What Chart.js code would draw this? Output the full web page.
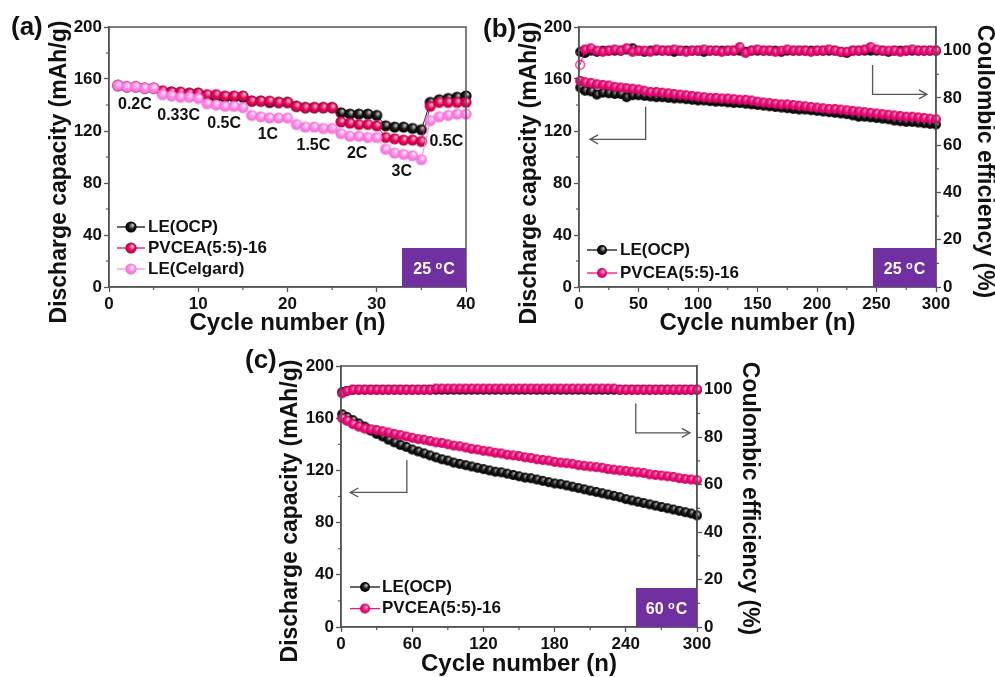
<!DOCTYPE html>
<html><head><meta charset="utf-8">
<script src="https://cdn.jsdelivr.net/npm/chart.js@4.4.1/dist/chart.umd.min.js"></script>
<style>
html,body{margin:0;padding:0;background:#fff;}
body{width:995px;height:677px;position:relative;overflow:hidden;}
canvas{position:absolute;}
</style></head><body>
<canvas id="ca" style="left:0px;top:0px" width="480" height="340"></canvas>
<canvas id="cb" style="left:480px;top:0px" width="515" height="340"></canvas>
<canvas id="cc" style="left:240px;top:340px" width="530" height="337"></canvas>
<script>
// ================= DATA =================
// (a) rate capability, 25 °C
const cyclesA = [1,2,3,4,5,6,7,8,9,10,11,12,13,14,15,16,17,18,19,20,21,22,23,24,25,26,27,28,29,30,31,32,33,34,35,36,37,38,39,40];
const capA_OCP     = [155,154,154,153,153, 150,150,149,149,149, 147,146,146,146,146, 143,143,142,142,142, 139,138,138,138,138, 134,133,133,133,132, 124,123,123,122,121, 142,144,145,146,147];
const capA_PVCEA   = [155,154,154,153,153, 151,150,150,149,149, 148,148,147,147,147, 143,143,143,142,142, 139,138,138,138,138, 127,126,125,125,124, 115,114,113,113,112, 139,142,142,142,142];
const capA_Celgard = [155,154,154,153,153, 148,147,146,146,145, 141,140,139,139,138, 132,131,130,130,130, 125,123,123,122,122, 118,116,116,115,115, 106,103,102,101,98, 128,131,132,133,133];
const rateLabels = ['0.2C','0.33C','0.5C','1C','1.5C','2C','3C','0.5C'];
const rateLabelX = [2.9,7.8,12.9,17.8,22.9,27.8,32.8,37.8];
const rateLabelY = [140,132,126,117,109,103,88.5,111.5];

// (b) and (c) cycling, sampled cycles
const cyclesBC = [1,5,10,15,20,25,30,35,40,45,50,55,60,65,70,75,80,85,90,95,100,105,110,115,120,125,130,135,140,145,150,155,160,165,170,175,180,185,190,195,200,205,210,215,220,225,230,235,240,245,250,255,260,265,270,275,280,285,290,295,300];

// (b) 25 °C
const capB_OCP   = [153.5,151,150.5,148,149.5,149,148.5,148.5,146,147.5,147.5,147,146.5,146,146,145.5,145,145,144.5,144,143.5,143.5,143,142.5,142.5,142,141.5,141.5,141,140.5,140,139.5,139,138.5,138,137.5,137,136.5,136.5,136,135.5,135,134.5,134,133.5,133,132,131,131,130.5,130,129.5,129,128,127.5,127,127,126.5,126,125.5,125];
const capB_PVCEA = [158.5,157.5,157,156,155.5,155,154,153.5,153,152.5,152,151,150,150,149.5,149,148.5,148,147.5,147,146.5,146,145.5,145.5,145,145,144.5,144,144,143.5,142.5,142,141.5,141,140.5,140.5,140,139.5,139,138.5,138,137.5,137,137,136.5,136,135.5,135,134.5,134,133.5,133,132.5,132,131.5,131,131,130.5,130,129.5,129];
const ceB_OCP    = [99.5,99,100,99.5,100,100,100,100,100.5,101, 100,99.5,100,100,100,100,99.5,100,100,100, 100,99.5,100,100,100,100,100,100,99.5,100, 100,100,100,100,99.5,100,100,100,100,100, 100,100,100,100,99.5,99,100,100,100,100, 100,100,99.5,100,100,100,100,100,100,100, 100];
const ceB_PVCEA  = [94,100.5,101,100,99.5,100,100.5,100,101,99.5, 100,100,99.5,100.5,100,100,100.5,100,99.5,100, 100,100.5,100,100,99.5,100,100,101.5,99,100, 100.5,100,100,99.5,100,100.5,100,100,100,99.5, 100,100,100.5,100,99.5,99.5,100,100,100.5,101.5, 100.5,100,100,100,99.5,100,100.5,100,100,100, 100];

// (c) 60 °C
const capC_OCP   = [163,161,158.5,156,153.5,150.5,148,146,143.5,141.5, 139.5,138,136,134.5,133,131.5,130,128.5,127.5,126, 125,124,123,122,121,120,119,118.5,117.5,116.5, 115.5,114.5,114,113,112,111,110,109.5,108.5,107.5, 106.5,105.5,104.5,103.5,102.5,101.5,100.5,99.5,98,97, 96,95,94,93,92,91,90,89,88,87, 85.5];
const capC_PVCEA = [160,158,155.5,153.5,152,151.5,151,150,149,148, 147,146,145,144,143.5,142.5,141.5,141,140,139, 138.5,137.5,136.5,136,135,134.5,133.5,133,132,131.5, 131,130,129.5,128.5,128,127.5,126.5,126,125.5,125, 124,123.5,123,122.5,122,121,120.5,120,119.5,119, 118.5,118,117,116.5,116,115.5,115,114,113.5,113, 112.5];
const ceC_OCP    = [99,99.5,100,100,100,100,100,100,100,100, 100,100,100,100,100,100,100,100,100,100, 100,100,100,100,100,100,100,100,100,100, 100,100,100,100,100,100,100,100,100,100, 100,100,100,100,100,100,100,100,100,100, 100,100,100,100,100,100,100,100,100,100, 100];
const ceC_PVCEA  = [98.5,99.5,100,100,100,100,100,100,100,100, 100,100,100,100,100,100,100.5,100.5,100.5,100.5, 100.5,100.5,100.5,100.5,100.5,100.5,100.5,100.5,100.5,100.5, 100.5,100.5,100.5,100.5,100.5,100.5,100.5,100.5,100.5,100.5, 100.5,100.5,100.5,100.5,100.5,100.5,100.5,100,100,100, 100,100,100,100,100,100,100,100,100,100, 100];

// guide arrows (data units): vertical from yTop to yBottom at x, then horizontal to xEnd
const arrowsB = {x:[56,246.7], yTop:[138.7,170.8], yBottom:[113.6,148.2], xEnd:[9.3,292.4]};
const arrowsC = {x:[55.5,248.4], yTop:[127.9,171.4], yBottom:[103.1,148.8], xEnd:[7.8,294]};

// ================= STYLE =================
const FONT = "'Liberation Sans', Arial, Helvetica, sans-serif";
const FRAME = '#555';
const TXT = '#111';
Chart.defaults.font.family = FONT;
Chart.defaults.font.weight = 'bold';
Chart.defaults.color = TXT;

function sphere(r, light, base, dark) {
  const s = Math.ceil(2 * r + 2);
  const c = document.createElement('canvas'); c.width = c.height = s;
  const g = c.getContext('2d');
  const cx = s / 2, cy = s / 2;
  const grad = g.createRadialGradient(cx + r * 0.3, cy - r * 0.35, r * 0.08, cx, cy, r);
  grad.addColorStop(0, light); grad.addColorStop(0.5, base); grad.addColorStop(1, dark);
  g.fillStyle = grad; g.beginPath(); g.arc(cx, cy, r, 0, Math.PI * 2); g.fill();
  return c;
}
function ring(r, color) {
  const s = Math.ceil(2 * r + 2);
  const c = document.createElement('canvas'); c.width = c.height = s;
  const g = c.getContext('2d');
  g.strokeStyle = color; g.lineWidth = 1.2; g.beginPath(); g.arc(s / 2, s / 2, r - 0.6, 0, Math.PI * 2); g.stroke();
  return c;
}
const IMG = {
  ocpA: sphere(5.6, '#c4c4c4', '#1a1a1a', '#000'),
  pvA: sphere(5.6, '#ffc4db', '#ea0a5e', '#b3003e'),
  celA: sphere(5.6, '#fff2fc', '#ff8ce7', '#f06cd6'),
  ocp: sphere(5, '#bdbdbd', '#1a1a1a', '#000'),
  pv: sphere(5, '#ffb3d6', '#f2127d', '#c9005e'),
  pvRing: ring(5, '#f2127d')
};

function ds(label, xs, ys, img, color, yAxisID, order) {
  return {
    label, yAxisID, order,
    data: xs.map((x, i) => ({x: x, y: ys[i]})),
    showLine: true, borderColor: color, backgroundColor: color, borderWidth: 1,
    pointStyle: img, pointRadius: 5, pointHoverRadius: 5, clip: false, tension: 0, fill: false
  };
}

function axis(pos, min, max, step, fixed, title) {
  const ax = {
    type: 'linear', position: pos, min: min, max: max,
    ticks: {stepSize: step, includeBounds: false, autoSkip: false, maxRotation: 0, color: TXT, padding: 2,
            font: {size: 17, weight: 'bold', family: FONT}},
    grid: {display: true, drawOnChartArea: false, drawTicks: true, tickLength: 5, tickColor: FRAME, tickWidth: 1.3},
    border: {display: true, color: FRAME, width: 1.5},
    afterFit(s) { if (s.isHorizontal()) s.height = fixed; else s.width = fixed; }
  };
  if (title) ax.title = title;
  return ax;
}
function xTitle(padBottom) {
  return {display: true, text: 'Cycle number (n)', color: TXT, font: {size: 24, weight: 'bold', family: FONT},
          padding: {top: 0, bottom: padBottom}};
}

// ================= DECORATION PLUGIN =================
const deco = {
  id: 'deco',
  afterDatasetsDraw(chart, args, o) {
    const ar = o.arrows; if (!ar) return;
    const ctx = chart.ctx, xs = chart.scales.x, ys = chart.scales.y;
    ctx.save();
    ctx.strokeStyle = '#555'; ctx.lineWidth = 1.3;
    for (let i = 0; i < ar.x.length; i++) {
      const x0 = xs.getPixelForValue(ar.x[i]), y0 = ys.getPixelForValue(ar.yTop[i]);
      const y1 = ys.getPixelForValue(ar.yBottom[i]), x1 = xs.getPixelForValue(ar.xEnd[i]);
      ctx.beginPath(); ctx.moveTo(x0, y0); ctx.lineTo(x0, y1); ctx.lineTo(x1, y1); ctx.stroke();
      const d = x1 > x0 ? -1 : 1;
      ctx.beginPath(); ctx.moveTo(x1 + d * 8, y1 - 4.5); ctx.lineTo(x1, y1); ctx.lineTo(x1 + d * 8, y1 + 4.5); ctx.stroke();
    }
    ctx.restore();
  },
  afterDraw(chart, args, o) {
    const ctx = chart.ctx, ca = chart.chartArea;
    ctx.save();
    // frame
    ctx.strokeStyle = FRAME; ctx.lineWidth = 1.5;
    ctx.strokeRect(ca.left, ca.top, ca.right - ca.left, ca.bottom - ca.top);
    // minor ticks
    ctx.lineWidth = 1.2;
    Object.values(chart.scales).forEach(sc => {
      const v = sc.ticks.map(t => t.value);
      for (let i = 0; i < v.length - 1; i++) {
        const p = sc.getPixelForValue((v[i] + v[i + 1]) / 2);
        ctx.beginPath();
        if (sc.position === 'left') { ctx.moveTo(ca.left, p); ctx.lineTo(ca.left - 3, p); }
        else if (sc.position === 'right') { ctx.moveTo(ca.right, p); ctx.lineTo(ca.right + 3, p); }
        else { ctx.moveTo(p, ca.bottom); ctx.lineTo(p, ca.bottom + 3); }
        ctx.stroke();
      }
    });
    ctx.fillStyle = TXT;
    // panel label
    ctx.font = `bold 26px ${FONT}`; ctx.textAlign = 'left'; ctx.textBaseline = 'middle';
    ctx.fillText(o.panel, o.panelX, o.panelY);
    // y titles
    ctx.font = `bold 23px ${FONT}`; ctx.textAlign = 'center'; ctx.textBaseline = 'middle';
    const midY = (ca.top + ca.bottom) / 2;
    ctx.save(); ctx.translate(ca.left + o.yTitleDx, midY + o.yTitleDy); ctx.rotate(-Math.PI / 2);
    ctx.fillText(o.yTitle, 0, 0); ctx.restore();
    if (o.y2Title) {
      ctx.save(); ctx.translate(ca.right + o.y2TitleDx, midY + o.y2TitleDy); ctx.rotate(Math.PI / 2);
      ctx.fillText(o.y2Title, 0, 0); ctx.restore();
    }
    // rate labels
    if (o.rates) {
      ctx.font = `bold 16px ${FONT}`;
      o.rates.labels.forEach((t, i) => {
        ctx.fillText(t, chart.scales.x.getPixelForValue(o.rates.x[i]), chart.scales.y.getPixelForValue(o.rates.y[i]));
      });
    }
    // legend
    ctx.font = `bold 17px ${FONT}`; ctx.textAlign = 'left'; ctx.textBaseline = 'middle';
    o.legend.forEach((lbl, i) => {
      const d = chart.data.datasets.find(s => s.label === lbl);
      const y = ca.bottom + o.legendDy + i * o.legendRow;
      const x0 = ca.left + o.legendDx;
      ctx.strokeStyle = d.borderColor; ctx.lineWidth = 1.3;
      ctx.beginPath(); ctx.moveTo(x0, y); ctx.lineTo(x0 + o.legendLen, y); ctx.stroke();
      const img = d.pointStyle;
      ctx.drawImage(img, x0 + o.legendLen / 2 - img.width / 2, y - img.height / 2);
      ctx.fillStyle = TXT;
      ctx.fillText(lbl, x0 + o.legendLen + o.legendGap, y);
    });
    // temperature box
    const bx = ca.right - o.tempW, by = ca.bottom - o.tempH;
    ctx.fillStyle = '#7030a0'; ctx.fillRect(bx, by, o.tempW, o.tempH);
    ctx.fillStyle = '#fff'; ctx.textBaseline = 'alphabetic'; ctx.textAlign = 'left';
    const f1 = `bold 16px ${FONT}`, f2 = `bold 11px ${FONT}`;
    ctx.font = f1; const w1 = ctx.measureText(o.temp + ' ').width, w3 = ctx.measureText('C').width;
    ctx.font = f2; const w2 = ctx.measureText('o').width;
    const total = w1 + w2 + 1 + w3;
    const sx = bx + (o.tempW - total) / 2, base = by + o.tempH / 2 + 6;
    ctx.font = f1; ctx.fillText(o.temp + ' ', sx, base);
    ctx.font = f2; ctx.fillText('o', sx + w1, base - 5);
    ctx.font = f1; ctx.fillText('C', sx + w1 + w2 + 1, base);
    ctx.restore();
  }
};

const baseOpts = {responsive: false, animation: false, devicePixelRatio: 1, events: []};

// ================= CHART (a) =================
new Chart(document.getElementById('ca'), {
  type: 'line',
  data: {datasets: [
    ds('LE(Celgard)', cyclesA, capA_Celgard, IMG.celA, '#ff8ce7', 'y', 0),
    ds('PVCEA(5:5)-16', cyclesA, capA_PVCEA, IMG.pvA, '#ea0a5e', 'y', 1),
    ds('LE(OCP)', cyclesA, capA_OCP, IMG.ocpA, '#111111', 'y', 2)
  ]},
  options: Object.assign({}, baseOpts, {
    layout: {padding: {top: 27, right: 14, left: 0, bottom: 0}},
    scales: {x: axis('bottom', 0, 40, 10, 53, xTitle(2)), y: axis('left', 0, 200, 40, 109)},
    plugins: {legend: {display: false}, tooltip: {enabled: false},
      deco: {panel: '(a)', panelX: 11, panelY: 28, yTitle: 'Discharge capacity (mAh/g)', yTitleDx: -49, yTitleDy: 15,
             legend: ['LE(OCP)', 'PVCEA(5:5)-16', 'LE(Celgard)'], legendDx: 8, legendDy: -60, legendRow: 21, legendLen: 28, legendGap: 3,
             temp: '25', tempW: 64, tempH: 39,
             rates: {labels: rateLabels, x: rateLabelX, y: rateLabelY}}}
  }),
  plugins: [deco]
});

// ================= CHART (b) =================
const ceBpv = ds('PVCEA(5:5)-16 CE', cyclesBC, ceB_PVCEA, IMG.pv, '#f2127d', 'y2', 0);
ceBpv.pointStyle = c => (c.dataIndex === 0 ? IMG.pvRing : IMG.pv);
new Chart(document.getElementById('cb'), {
  type: 'line',
  data: {datasets: [
    ceBpv,
    ds('PVCEA(5:5)-16', cyclesBC, capB_PVCEA, IMG.pv, '#f2127d', 'y', 1),
    ds('LE(OCP) CE', cyclesBC, ceB_OCP, IMG.ocp, '#111111', 'y2', 2),
    ds('LE(OCP)', cyclesBC, capB_OCP, IMG.ocp, '#111111', 'y', 3)
  ]},
  options: Object.assign({}, baseOpts, {
    layout: {padding: {top: 27, right: 0, left: 0, bottom: 0}},
    scales: {x: axis('bottom', 0, 300, 50, 53, xTitle(2)), y: axis('left', 0, 200, 40, 99), y2: axis('right', 0, 110, 20, 59)},
    plugins: {legend: {display: false}, tooltip: {enabled: false},
      deco: {panel: '(b)', panelX: 3, panelY: 30, yTitle: 'Discharge capacity (mAh/g)', yTitleDx: -49.5, yTitleDy: 16,
             y2Title: 'Coulombic efficiency (%)', y2TitleDx: 48.5, y2TitleDy: 4.5,
             legend: ['LE(OCP)', 'PVCEA(5:5)-16'], legendDx: 8, legendDy: -37, legendRow: 23, legendLen: 30, legendGap: 3,
             temp: '25', tempW: 63, tempH: 39, arrows: arrowsB}}
  }),
  plugins: [deco]
});

// ================= CHART (c) =================
new Chart(document.getElementById('cc'), {
  type: 'line',
  data: {datasets: [
    ds('PVCEA(5:5)-16 CE', cyclesBC, ceC_PVCEA, IMG.pv, '#f2127d', 'y2', 0),
    ds('PVCEA(5:5)-16', cyclesBC, capC_PVCEA, IMG.pv, '#f2127d', 'y', 1),
    ds('LE(OCP) CE', cyclesBC, ceC_OCP, IMG.ocp, '#111111', 'y2', 2),
    ds('LE(OCP)', cyclesBC, capC_OCP, IMG.ocp, '#111111', 'y', 3)
  ]},
  options: Object.assign({}, baseOpts, {
    layout: {padding: {top: 26, right: 0, left: 0, bottom: 0}},
    scales: {x: axis('bottom', 0, 300, 60, 50, xTitle(-2)), y: axis('left', 0, 200, 40, 101), y2: axis('right', 0, 110, 20, 73)},
    plugins: {legend: {display: false}, tooltip: {enabled: false},
      deco: {panel: '(c)', panelX: 5, panelY: 21, yTitle: 'Discharge capacity (mAh/g)', yTitleDx: -50, yTitleDy: 14.5,
             y2Title: 'Coulombic efficiency (%)', y2TitleDx: 52.5, y2TitleDy: 2,
             legend: ['LE(OCP)', 'PVCEA(5:5)-16'], legendDx: 9, legendDy: -40, legendRow: 21.6, legendLen: 30, legendGap: 2,
             temp: '60', tempW: 61, tempH: 39, arrows: arrowsC}}
  }),
  plugins: [deco]
});
</script>
</body></html>
